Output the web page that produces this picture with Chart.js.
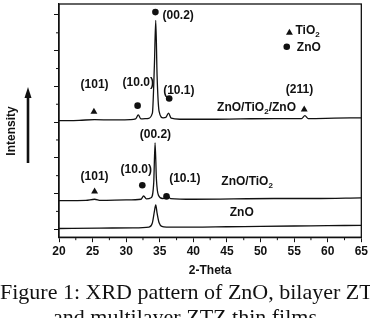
<!DOCTYPE html>
<html>
<head>
<meta charset="utf-8">
<script src="https://cdn.jsdelivr.net/npm/chart.js@4.4.1/dist/chart.umd.min.js"></script>
<style>
  html, body { margin: 0; padding: 0; background: #fff; overflow: hidden; }
  #wrap { position: relative; width: 370px; height: 318px; overflow: hidden; }
  #xrd { position: absolute; left: 0; top: 0; }
  #caption {
    position: absolute; left: 0; top: 279px; width: 370px;
    font: 22px/25px "Liberation Serif", "Times New Roman", serif;
    color: #111; text-align: center; white-space: nowrap;
  }
</style>
</head>
<body>
<div id="wrap">
  <canvas id="xrd" width="370" height="280"></canvas>
  <div id="caption">Figure 1: XRD pattern of ZnO, bilayer ZT<br>and multilayer ZTZ thin films</div>
</div>
<script>
// traces: 2-theta vs intensity (stacked, in y-tick units)
const ztzTheta = [20, 23, 25.3, 28, 30.6, 31.4, 31.8, 32.2, 33.2, 33.9, 34.2, 34.4, 34.6, 34.9, 35.5, 35.9, 36.3, 36.7, 38, 42, 47, 52, 56.1, 56.6, 57.1, 61, 65];
const ztzInt   = [3.04, 3.05, 3.07, 3.06, 3.07, 3.09, 3.2, 3.09, 3.1, 3.25, 4.6, 5.85, 4.3, 3.3, 3.12, 3.13, 3.25, 3.11, 3.08, 3.08, 3.09, 3.1, 3.1, 3.18, 3.1, 3.11, 3.12];

const ztTheta = [20, 24, 25.3, 26.2, 30, 32.2, 32.6, 33.0, 33.7, 34.1, 34.3, 34.5, 34.8, 35.4, 35.9, 36.2, 36.6, 40, 46, 52, 58, 65];
const ztInt   = [0.8, 0.81, 0.84, 0.81, 0.82, 0.84, 0.93, 0.85, 0.88, 1.3, 2.42, 1.4, 0.95, 0.86, 0.88, 0.93, 0.86, 0.84, 0.85, 0.86, 0.86, 0.88];

const znoTheta = [20, 26, 31, 33.4, 33.9, 34.2, 34.4, 34.6, 34.9, 35.3, 36, 40, 45, 50, 55, 60, 65];
const znoInt   = [0.02, 0.03, 0.04, 0.06, 0.18, 0.5, 0.68, 0.45, 0.18, 0.08, 0.06, 0.06, 0.07, 0.08, 0.09, 0.1, 0.11];

// phase markers (TiO2 = triangle, ZnO = dot), last one of each is the key
const tiTheta = [25.2, 56.5, 25.3, 54.3];
const tiInt   = [3.29, 3.35, 1.06, 5.5];
const znTheta = [34.35, 31.7, 36.4, 32.4, 36.0, 53.9];
const znInt   = [6.08, 3.46, 3.66, 1.23, 0.92, 5.11];

// text annotations
const noteText  = ['(00.2)', '(101)', '(10.0)', '(10.1)', '(211)', 'ZnO/TiO₂/ZnO', 'TiO₂', 'ZnO',
                   '(00.2)', '(101)', '(10.0)', '(10.1)', 'ZnO/TiO₂', 'ZnO'];
const noteTheta = [35.4, 25.3, 31.8, 35.5, 55.8, 49.4, 55.2, 55.4, 34.35, 25.3, 31.5, 36.4, 48.0, 47.2];
const noteInt   = [5.97, 4.05, 4.1, 3.88, 3.91, 3.4, 5.55, 5.08, 2.65, 1.48, 1.67, 1.42, 1.34, 0.47];
const noteAlign = ['left', 'center', 'center', 'left', 'center', 'center', 'left', 'left',
                   'center', 'center', 'center', 'left', 'center', 'center'];

const thetaTicks = [20, 25, 30, 35, 40, 45, 50, 55, 60, 65];
const intTicks = [0, 1, 2, 3, 4, 5, 6];

const INK = '#111';
const FONT = '"Liberation Sans", Arial, "DejaVu Sans", sans-serif';

const pts = (xs, ys) => xs.map((x, i) => ({ x, y: ys[i] }));

const trace = (xs, ys) => ({
  data: pts(xs, ys),
  showLine: true,
  borderColor: INK,
  borderWidth: 1.3,
  pointRadius: 0,
  cubicInterpolationMode: 'monotone'
});

const marker = (xs, ys, style, r) => ({
  data: pts(xs, ys),
  showLine: false,
  pointStyle: style,
  pointRadius: r,
  backgroundColor: INK,
  borderColor: INK,
  borderWidth: 0
});

// text with a subscript 2
function drawRich(ctx, text, x, y, align) {
  const parts = text.split('₂');
  const main = 'bold 12px ' + FONT, sub = 'bold 8px ' + FONT;
  let w = 0;
  parts.forEach((p, i) => {
    ctx.font = main; w += ctx.measureText(p).width;
    if (i < parts.length - 1) { ctx.font = sub; w += ctx.measureText('2').width; }
  });
  let cx = align === 'center' ? x - w / 2 : x;
  ctx.textAlign = 'left';
  ctx.textBaseline = 'middle';
  parts.forEach((p, i) => {
    ctx.font = main; ctx.fillText(p, cx, y); cx += ctx.measureText(p).width;
    if (i < parts.length - 1) {
      ctx.font = sub; ctx.fillText('2', cx, y + 4); cx += ctx.measureText('2').width;
    }
  });
}

const decor = {
  id: 'decor',
  afterDraw(chart) {
    const { ctx, chartArea: a, scales: { x, y } } = chart;
    ctx.save();
    ctx.strokeStyle = INK;
    ctx.fillStyle = INK;

    // frame
    ctx.lineWidth = 1.3;
    ctx.strokeRect(a.left, a.top, a.right - a.left, a.bottom - a.top);

    // minor ticks
    ctx.lineWidth = 1;
    ctx.beginPath();
    for (let i = 0; i < thetaTicks.length - 1; i++) {
      const px = x.getPixelForValue((thetaTicks[i] + thetaTicks[i + 1]) / 2);
      ctx.moveTo(px, a.bottom); ctx.lineTo(px, a.bottom + 3);
    }
    for (let i = 0; i < intTicks.length - 1; i++) {
      const py = y.getPixelForValue((intTicks[i] + intTicks[i + 1]) / 2);
      ctx.moveTo(a.left - 3, py); ctx.lineTo(a.left, py);
    }
    ctx.stroke();

    // annotations
    noteText.forEach((t, i) => {
      drawRich(ctx, t, x.getPixelForValue(noteTheta[i]), y.getPixelForValue(noteInt[i]), noteAlign[i]);
    });

    // intensity label and arrow
    ctx.save();
    ctx.translate(12, 131);
    ctx.rotate(-Math.PI / 2);
    ctx.font = 'bold 12px ' + FONT;
    ctx.textAlign = 'center';
    ctx.textBaseline = 'middle';
    ctx.fillText('Intensity', 0, 0);
    ctx.restore();

    ctx.lineWidth = 2.6;
    ctx.beginPath();
    ctx.moveTo(28, 163); ctx.lineTo(28, 95);
    ctx.stroke();
    ctx.beginPath();
    ctx.moveTo(28, 87); ctx.lineTo(24.5, 98); ctx.lineTo(31.5, 98);
    ctx.closePath();
    ctx.fill();
    ctx.restore();
  }
};

new Chart(document.getElementById('xrd'), {
  type: 'scatter',
  data: {
    datasets: [
      trace(ztzTheta, ztzInt),
      trace(ztTheta, ztInt),
      trace(znoTheta, znoInt),
      marker(tiTheta, tiInt, 'triangle', 4),
      marker(znTheta, znInt, 'circle', 3.3)
    ]
  },
  options: {
    responsive: false,
    animation: false,
    layout: { padding: { top: 4, right: 7, left: 0, bottom: 2 } },
    plugins: { legend: { display: false }, tooltip: { enabled: false } },
    scales: {
      x: {
        type: 'linear',
        min: 20, max: 65,
        afterBuildTicks: s => { s.ticks = thetaTicks.map(v => ({ value: v })); },
        grid: { drawOnChartArea: false, tickLength: 5, color: INK, lineWidth: 1 },
        border: { color: INK, width: 1.3 },
        ticks: { color: INK, padding: 2, maxRotation: 0, font: { family: FONT, size: 12, weight: 'bold' } },
        title: { display: true, text: '2-Theta', color: INK, padding: { top: 3, bottom: 0 },
                 font: { family: FONT, size: 12, weight: 'bold' } }
      },
      y: {
        min: -0.223, max: 6.307,
        afterBuildTicks: s => { s.ticks = intTicks.map(v => ({ value: v })); },
        afterFit: s => { s.width = 59; },
        grid: { drawOnChartArea: false, tickLength: 5, color: INK, lineWidth: 1 },
        border: { color: INK, width: 1.3 },
        ticks: { display: false }
      }
    }
  },
  plugins: [decor]
});
</script>
</body>
</html>
